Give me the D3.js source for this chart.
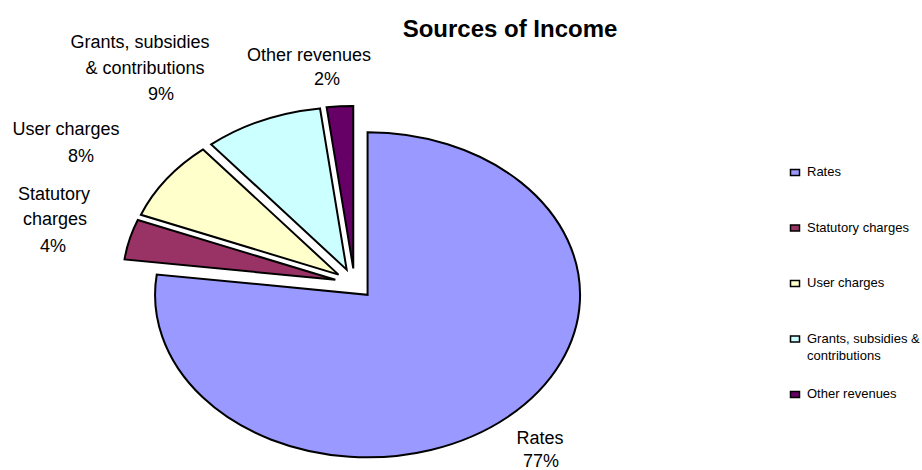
<!DOCTYPE html>
<html>
<head>
<meta charset="utf-8">
<script src="https://cdn.jsdelivr.net/npm/d3@7"></script>
<style>
    body { margin: 0; background: #fff; }
    text { font-family: "Liberation Sans", Arial, sans-serif; fill: #000; }
</style>
</head>
<body>
<div id="chart"></div>
<script>
// Chart data
var categories = ["Rates", "Statutory charges", "User charges", "Grants, subsidies & contributions", "Other revenues"];
var values = [77, 4, 8, 9, 2];

// How the names break onto lines (slice labels and legend)
var labelLines = [["Rates"], ["Statutory", "charges"], ["User charges"], ["Grants, subsidies", "& contributions"], ["Other revenues"]];
var legendLines = [["Rates"], ["Statutory charges"], ["User charges"], ["Grants, subsidies &", "contributions"], ["Other revenues"]];

// Excel palette
var palette = ["#9999FF", "#993366", "#FFFFCC", "#CCFFFF", "#660066"];

// Define svgWidth and svgHeight
var svgWidth = 922;
var svgHeight = 470;

// Pie geometry (the pie is stretched into an ellipse)
var cx = 354.5, cy = 283.5;
var rx = 212.5, ry = 162.5;
var explode = 0.093;
var sx = rx / ry;

// Label anchors, one entry per text line (name lines then percent)
var labelPos = [
    [[540, 444], [541, 467]],
    [[54, 200], [55, 225], [53, 252]],
    [[66, 135], [81, 162]],
    [[140, 47.5], [145, 74], [161, 100]],
    [[309, 60.7], [327, 85]]
];

var svg = d3.select("#chart")
    .append("svg")
    .attr("width", svgWidth)
    .attr("height", svgHeight);

var color = d3.scaleOrdinal()
    .domain(categories)
    .range(palette);

var pie = d3.pie()
    .sort(null)
    .value(d => d.value);

var arc = d3.arc()
    .innerRadius(0)
    .outerRadius(ry);

var data = categories.map((c, i) => ({ name: c, value: values[i], i: i }));
var arcs = pie(data);

// Draw slices, each pushed out along its mid angle
var pieGroup = svg.append("g")
    .attr("transform", `translate(${cx}, ${cy}) scale(${sx}, 1)`);

pieGroup.selectAll("path")
    .data(arcs)
    .enter()
    .append("path")
    .attr("transform", function(d) {
        var mid = (d.startAngle + d.endAngle) / 2;
        var dx = explode * ry * Math.sin(mid);
        var dy = -explode * ry * Math.cos(mid);
        return `translate(${dx}, ${dy})`;
    })
    .attr("d", arc)
    .attr("fill", d => color(d.data.name))
    .attr("stroke", "#000")
    .attr("stroke-width", 2)
    .attr("stroke-linejoin", "miter")
    .attr("vector-effect", "non-scaling-stroke");

// Data labels
arcs.forEach(function(d, i) {
    var lines = labelLines[i].concat([d.data.value + "%"]);
    lines.forEach(function(t, j) {
        svg.append("text")
            .attr("x", labelPos[i][j][0])
            .attr("y", labelPos[i][j][1])
            .attr("text-anchor", "middle")
            .style("font-size", "18px")
            .text(t);
    });
});

// Title
svg.append("text")
    .attr("x", 510)
    .attr("y", 37)
    .attr("text-anchor", "middle")
    .style("font-size", "24px")
    .style("font-weight", "bold")
    .text("Sources of Income");

// Legend
var legend = svg.append("g")
    .attr("transform", "translate(790, 176)");

var legendItem = legend.selectAll("g")
    .data(categories)
    .enter()
    .append("g")
    .attr("transform", (d, i) => `translate(0, ${i * 55.5})`);

legendItem.append("rect")
    .attr("x", 0.5)
    .attr("y", -6.5)
    .attr("width", 9)
    .attr("height", 6)
    .attr("fill", d => color(d))
    .attr("stroke", "#000")
    .attr("stroke-width", 1.5);

legendItem.each(function(d, i) {
    var g = d3.select(this);
    legendLines[i].forEach(function(t, j) {
        g.append("text")
            .attr("x", 17)
            .attr("y", j * 17.5)
            .style("font-size", "13px")
            .text(t);
    });
});
</script>
</body>
</html>
